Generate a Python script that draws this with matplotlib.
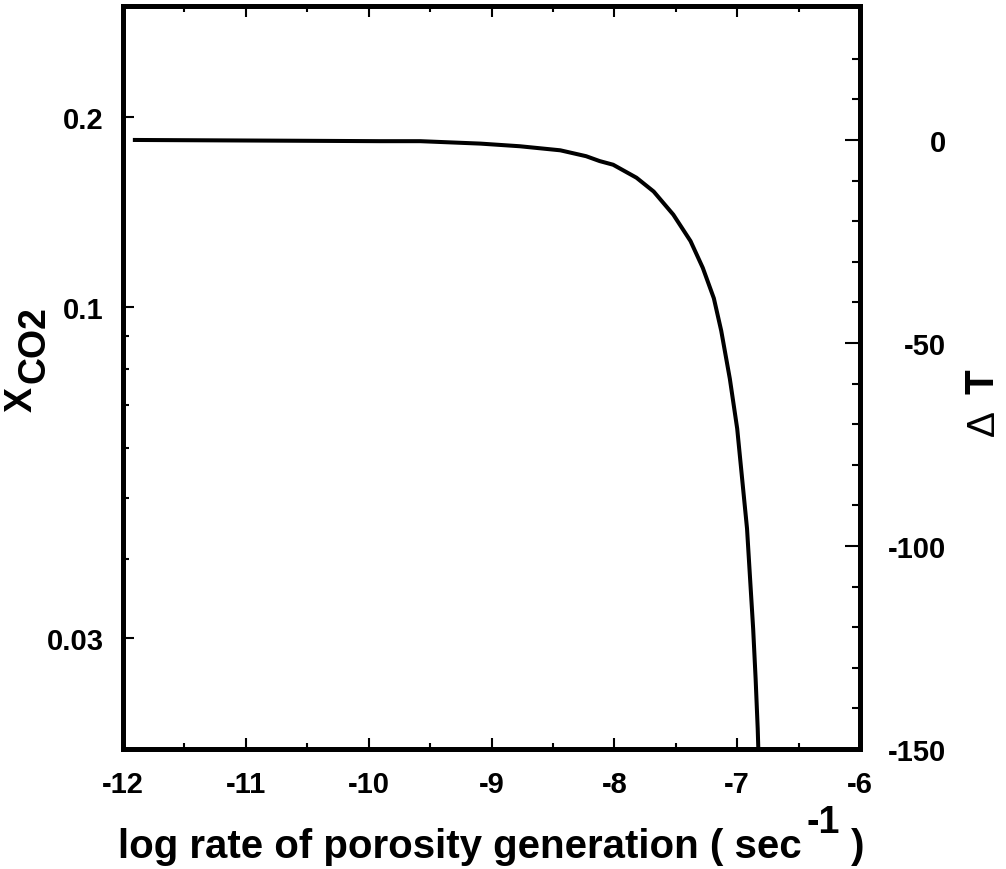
import matplotlib.pyplot as plt

# curve: delta T against log rate
log_rate = [-11.92, -10.56, -9.91, -9.58, -9.09, -8.77, -8.44, -8.23, -8.12,
            -8.01, -7.82, -7.68, -7.52, -7.38, -7.28, -7.19, -7.13, -7.06,
            -7.00, -6.96, -6.92, -6.895, -6.87, -6.85, -6.833, -6.828]
delta_t = [0.0, -0.2, -0.3, -0.3, -0.9, -1.55, -2.55, -4.0, -5.2,
           -6.1, -9.3, -12.7, -18.4, -24.9, -31.5, -39.0, -47.0, -58.8,
           -71.1, -83.4, -95.7, -108.1, -120.4, -132.7, -145.0, -150.0]

x_ticks = [-12, -11, -10, -9, -8, -7, -6]
x_minor = [-11.5, -10.5, -9.5, -8.5, -7.5, -6.5]
xco2_ticks = [0.2, 0.1, 0.03]
xco2_labels = ['0.2', '0.1', '0.03']
xco2_minor = [0.09, 0.08, 0.07, 0.06, 0.05, 0.04]
dt_ticks = [0, -50, -100, -150]
dt_minor = [20, 10, -10, -20, -30, -40, -60, -70, -80, -90,
            -110, -120, -130, -140]

plt.rcParams['font.family'] = ['Liberation Sans', 'DejaVu Sans']
plt.rcParams['font.weight'] = 'bold'

fig = plt.figure(figsize=(10.06, 8.70), dpi=100)
ax = fig.add_axes([0.1223, 0.1379, 0.7326, 0.8541])
ax2 = ax.twinx()

ax2.plot(log_rate, delta_t, color='black', lw=2.9, solid_capstyle='butt',
         solid_joinstyle='round')

ax.set_xlim(-12, -6)
ax.set_yscale('log')
ax.set_ylim(0.02, 0.3)
ax2.set_ylim(-150, 33)

ax.set_xticks(x_ticks)
ax.set_xticks(x_minor, minor=True)
ax.set_xticklabels([str(v) for v in x_ticks])
ax.set_yticks(xco2_ticks)
ax.set_yticklabels(xco2_labels)
ax.set_yticks(xco2_minor, minor=True)
ax.yaxis.set_minor_formatter(plt.NullFormatter())
ax2.set_yticks(dt_ticks)
ax2.set_yticks(dt_minor, minor=True)
ax2.set_yticklabels([str(v) for v in dt_ticks], ha='right')

for a in (ax, ax2):
    for s in a.spines.values():
        s.set_linewidth(3.5)

ax.tick_params(axis='x', which='both', direction='in', top=True, width=1.5,
               labelsize=21, pad=15)
ax.tick_params(axis='x', which='major', length=8)
ax.tick_params(axis='x', which='minor', length=4)
ax.tick_params(axis='y', which='both', direction='in', right=False, width=1.5,
               labelsize=21, pad=14)
ax.tick_params(axis='y', which='major', length=8)
ax.tick_params(axis='y', which='minor', length=4)
ax2.tick_params(axis='y', which='both', direction='in', width=1.5,
                labelsize=21, pad=62)
ax2.tick_params(axis='y', which='major', length=11)
ax2.tick_params(axis='y', which='minor', length=6)

# left title: X with a large CO2 subscript
fig.text(22 / 1006, 1 - 400 / 870, 'X', rotation=90, fontsize=27,
         ha='center', va='center')
fig.text(35 / 1006, 1 - 345 / 870, 'CO2', rotation=90, fontsize=27,
         ha='center', va='center')

# right title
fig.text(983 / 1006, 1 - 382 / 870, 'T', rotation=90, fontsize=29,
         ha='center', va='center')
fig.text(984 / 1006, 1 - 423 / 870, '\u0394', rotation=90, fontsize=28,
         fontweight='normal', ha='center', va='center')

# bottom title with raised -1
fig.text(118 / 1006, 1 - 858 / 870, 'log rate of porosity generation ( sec',
         fontsize=29, ha='left', va='baseline')
fig.text(806 / 1006, 1 - 833 / 870, '-1', fontsize=27,
         ha='left', va='baseline')
fig.text(851 / 1006, 1 - 858 / 870, ')', fontsize=29,
         ha='left', va='baseline')

fig.savefig('out.png', dpi=100)
